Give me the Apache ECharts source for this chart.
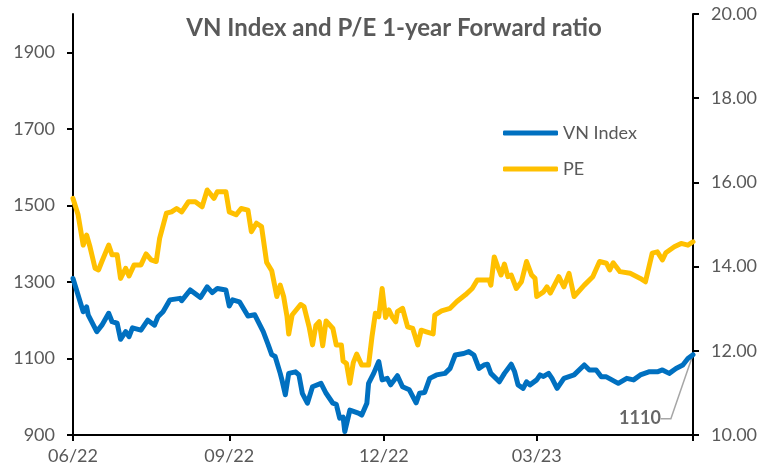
<!DOCTYPE html>
<html><head><meta charset="utf-8">
<script src="https://cdn.jsdelivr.net/npm/echarts@6/dist/echarts.min.js"></script>
<style>html,body{margin:0;padding:0;background:#fff}#c{width:766px;height:475px}</style>
</head><body><div id="c"></div><script>
const chartTitle = 'VN Index and P/E 1-year Forward ratio';
const seriesNames = ['VN Index', 'PE'];

const vnDates = ['2022-06-01','2022-06-07','2022-06-09','2022-06-10','2022-06-15','2022-06-18','2022-06-22','2022-06-24','2022-06-27','2022-06-29',
'2022-07-02','2022-07-04','2022-07-06','2022-07-11','2022-07-15','2022-07-19','2022-07-21','2022-07-24','2022-07-28',
'2022-08-03','2022-08-04','2022-08-09','2022-08-15','2022-08-19','2022-08-22','2022-08-25','2022-08-30',
'2022-09-01','2022-09-03','2022-09-07','2022-09-12','2022-09-16','2022-09-21','2022-09-24','2022-09-26','2022-09-28',
'2022-10-01','2022-10-02','2022-10-04','2022-10-06','2022-10-10','2022-10-12','2022-10-14','2022-10-17','2022-10-20','2022-10-25','2022-10-28',
'2022-11-01','2022-11-03','2022-11-05','2022-11-07','2022-11-08','2022-11-11','2022-11-16','2022-11-18','2022-11-21','2022-11-22','2022-11-25','2022-11-28','2022-11-30',
'2022-12-03','2022-12-05','2022-12-09','2022-12-12','2022-12-16','2022-12-20','2022-12-22','2022-12-25','2022-12-28',
'2023-01-01','2023-01-06','2023-01-09','2023-01-12','2023-01-17','2023-01-20','2023-01-23','2023-01-26','2023-01-29','2023-01-31',
'2023-02-02','2023-02-07','2023-02-10','2023-02-14','2023-02-16','2023-02-18','2023-02-21','2023-02-23','2023-02-25',
'2023-03-01','2023-03-03','2023-03-05','2023-03-08','2023-03-10','2023-03-13','2023-03-17','2023-03-23','2023-03-29',
'2023-04-01','2023-04-05','2023-04-08','2023-04-11','2023-04-18','2023-04-23','2023-04-27',
'2023-05-01','2023-05-06','2023-05-11','2023-05-14','2023-05-18','2023-05-22','2023-05-26','2023-05-29','2023-06-01'];
const vnIndex = [1309,1222,1235,1213,1170,1187,1218,1196,1192,1150,
1170,1157,1180,1174,1200,1187,1209,1222,1253,
1257,1251,1279,1259,1287,1272,1283,1279,
1237,1253,1248,1211,1214,1170,1135,1110,1105,
1061,1044,1005,1061,1065,1057,1009,983,1026,1035,1009,
983,980,944,947,909,965,957,952,983,1035,1061,1092,1044,
1048,1031,1055,1026,1018,984,1009,1011,1048,
1057,1061,1074,1109,1113,1118,1109,1074,1083,1085,
1061,1039,1061,1085,1065,1031,1022,1039,1031,
1044,1057,1053,1061,1048,1022,1048,1057,1083,
1070,1070,1052,1052,1035,1048,1044,
1057,1065,1065,1070,1061,1074,1083,1100,1110];

const peDates = ['2022-06-01','2022-06-04','2022-06-07','2022-06-09','2022-06-11','2022-06-14','2022-06-16','2022-06-18','2022-06-22','2022-06-24','2022-06-27','2022-06-29',
'2022-07-02','2022-07-04','2022-07-07','2022-07-11','2022-07-14','2022-07-17','2022-07-20','2022-07-22','2022-07-26','2022-07-29',
'2022-08-01','2022-08-04','2022-08-08','2022-08-12','2022-08-16','2022-08-19','2022-08-23','2022-08-25','2022-08-30',
'2022-09-01','2022-09-05','2022-09-08','2022-09-12','2022-09-14','2022-09-17','2022-09-20','2022-09-23','2022-09-26','2022-09-27','2022-09-29',
'2022-10-01','2022-10-03','2022-10-05','2022-10-06','2022-10-08','2022-10-13','2022-10-15','2022-10-18','2022-10-20','2022-10-22','2022-10-24','2022-10-26','2022-10-28',
'2022-11-01','2022-11-03','2022-11-06','2022-11-07','2022-11-09','2022-11-11','2022-11-13','2022-11-15','2022-11-18','2022-11-22','2022-11-24','2022-11-26','2022-11-28','2022-11-30',
'2022-12-02','2022-12-04','2022-12-06','2022-12-08','2022-12-09','2022-12-12','2022-12-15','2022-12-18','2022-12-21','2022-12-23','2022-12-26','2022-12-30','2022-12-31',
'2023-01-04','2023-01-09','2023-01-13','2023-01-18','2023-01-22','2023-01-25',
'2023-02-01','2023-02-02','2023-02-04','2023-02-06','2023-02-08','2023-02-10','2023-02-12','2023-02-14','2023-02-17','2023-02-20','2023-02-23','2023-02-26','2023-02-28',
'2023-03-01','2023-03-05','2023-03-07','2023-03-09','2023-03-14','2023-03-17','2023-03-20','2023-03-23','2023-03-29',
'2023-04-03','2023-04-07','2023-04-11','2023-04-13','2023-04-15','2023-04-19','2023-04-25',
'2023-05-01','2023-05-04','2023-05-08','2023-05-11','2023-05-14','2023-05-16','2023-05-21','2023-05-25','2023-05-29','2023-06-01'];
const peRatio = [15.62,15.23,14.51,14.75,14.47,13.96,13.92,14.12,14.51,14.28,14.28,13.72,
13.96,13.78,14.04,14.04,14.30,14.16,14.12,14.67,15.27,15.30,
15.38,15.30,15.54,15.54,15.42,15.82,15.62,15.78,15.78,
15.30,15.23,15.38,15.34,14.83,15.03,14.95,14.10,13.90,13.92,13.29,
13.56,13.29,12.81,12.40,12.85,13.10,13.05,12.57,12.14,12.60,12.69,12.12,12.71,
12.53,12.14,12.14,11.76,11.70,11.23,11.72,11.92,11.66,11.66,12.33,12.89,12.81,13.48,
12.79,12.97,12.80,12.69,12.93,13.01,12.57,12.53,12.14,12.49,12.45,12.40,12.85,
12.95,13.01,13.17,13.33,13.48,13.68,
13.68,13.56,14.23,14.00,13.80,14.06,13.76,13.80,13.48,13.64,14.12,13.80,13.72,
13.29,13.40,13.52,13.37,13.76,13.52,13.84,13.29,13.56,
13.76,14.12,14.08,13.92,14.09,13.88,13.84,
13.72,13.64,14.32,14.35,14.16,14.33,14.47,14.55,14.51,14.59];

const xTickDates = ['2022-06-01','2022-09-01','2022-12-01','2023-03-01','2023-06-01'];
const xLabelDates = ['2022-06-01','2022-09-01','2022-12-01','2023-03-01'];
const leftTicks = [900,1100,1300,1500,1700,1900];
const rightTicks = [10,12,14,16,18,20];

const ts = s => new Date(s + 'T00:00:00').getTime();
const FONT = "Lato, 'Open Sans', sans-serif";
const GRAY = '#595959';
const BLUE = '#0070C0';
const YELLOW = '#FFC000';

const vnData = vnDates.map((d, i) => [ts(d), vnIndex[i]]);
const peData = peDates.map((d, i) => [ts(d), peRatio[i]]);
const last = vnData.length - 1;

const chart = echarts.init(document.getElementById('c'), null, {renderer: 'canvas'});
chart.setOption({
  animation: false,
  backgroundColor: '#fff',
  title: {
    text: chartTitle, left: 389, textAlign: 'center', top: 11,
    textStyle: {fontFamily: FONT, fontWeight: 'bold', fontSize: 24, color: GRAY}
  },
  legend: {
    data: seriesNames, orient: 'vertical', left: 498, top: 119,
    itemWidth: 55, itemHeight: 5, itemGap: 18, icon: 'roundRect',
    textStyle: {fontFamily: FONT, fontSize: 18, color: GRAY}
  },
  grid: {left: 73, right: 73, top: 14, bottom: 40, containLabel: false},
  xAxis: {
    type: 'value', min: ts(xTickDates[0]), max: ts(xTickDates[xTickDates.length - 1]),
    axisLine: {lineStyle: {color: '#000', width: 2}},
    axisTick: {show: true, length: 6, customValues: xTickDates.map(ts), lineStyle: {color: '#000', width: 2}},
    axisLabel: {
      customValues: xLabelDates.map(ts), margin: 12,
      fontFamily: FONT, fontSize: 18, color: GRAY,
      formatter: v => { const d = new Date(v); return String(d.getMonth() + 1).padStart(2, '0') + '/' + String(d.getFullYear() % 100).padStart(2, '0'); }
    },
    splitLine: {show: false}
  },
  yAxis: [{
    type: 'value', min: 900, max: 2000, position: 'left',
    axisLine: {show: true, lineStyle: {color: '#000', width: 2}},
    axisTick: {show: true, length: 6, customValues: leftTicks, lineStyle: {color: '#000', width: 2}},
    axisLabel: {customValues: leftTicks, margin: 18, fontFamily: FONT, fontSize: 18, color: GRAY,
      formatter: v => String(v)},
    splitLine: {show: false}
  }, {
    type: 'value', min: 10, max: 20, position: 'right',
    axisLine: {show: true, lineStyle: {color: '#000', width: 2}},
    axisTick: {show: true, length: 6, customValues: rightTicks, lineStyle: {color: '#000', width: 2}},
    axisLabel: {customValues: rightTicks, margin: 18, fontFamily: FONT, fontSize: 18, color: GRAY,
      formatter: v => v.toFixed(2)},
    splitLine: {show: false}
  }],
  series: [{
    name: seriesNames[1], type: 'line', yAxisIndex: 1, data: peData,
    showSymbol: false, symbol: 'none', color: YELLOW,
    lineStyle: {width: 5, color: YELLOW, join: 'round', cap: 'round'}
  }, {
    name: seriesNames[0], type: 'line', yAxisIndex: 0, data: vnData,
    showSymbol: false, symbol: 'none', color: BLUE,
    lineStyle: {width: 5, color: BLUE, join: 'round', cap: 'round'}
  }, {
    name: 'last', type: 'scatter', yAxisIndex: 0, data: [vnData[last]],
    symbolSize: 1, itemStyle: {color: 'rgba(0,0,0,0)'}, silent: true, clip: false,
    label: {show: true, position: 'inside', formatter: p => String(p.value[1]),
      fontFamily: FONT, fontWeight: 'bold', fontSize: 18, color: '#404040'},
    labelLayout: {dx: -53, dy: 64, hideOverlap: false},
    labelLine: {show: true, length2: 10, lineStyle: {color: '#A6A6A6', width: 1.5}}
  }]
});
</script></body></html>
